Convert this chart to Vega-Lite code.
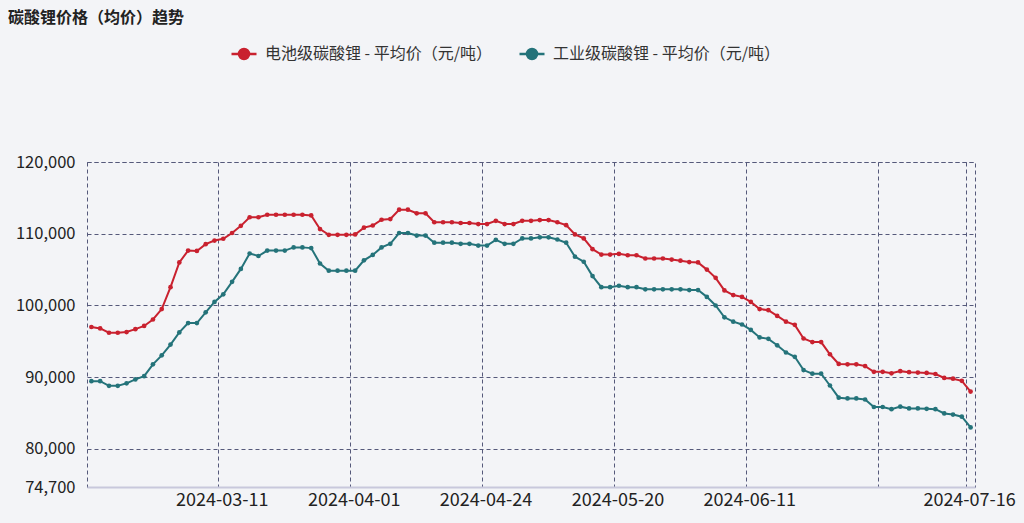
{
  "$schema": "https://vega.github.io/schema/vega-lite/v6.json",
  "width": 888,
  "height": 325,
  "autosize": {"type": "none"},
  "padding": {"left": 87, "top": 162, "right": 49, "bottom": 36},
  "background": "#f3f4f7",
  "view": {"stroke": "#55597a", "strokeDash": [4, 3], "strokeWidth": 1},
  "title": {
    "text": "碳酸锂价格（均价）趋势",
    "anchor": "start",
    "frame": "group",
    "dx": -79,
    "offset": 14,
    "font": "Noto Sans CJK SC",
    "fontSize": 16,
    "fontWeight": "bold",
    "color": "#222222"
  },
  "data": {
    "values": [
      {"date": "2024-02-19", "b": 97000, "i": 89450},
      {"date": "2024-02-20", "b": 96800, "i": 89450},
      {"date": "2024-02-21", "b": 96200, "i": 88800},
      {"date": "2024-02-22", "b": 96200, "i": 88800},
      {"date": "2024-02-23", "b": 96300, "i": 89150},
      {"date": "2024-02-26", "b": 96700, "i": 89700},
      {"date": "2024-02-27", "b": 97150, "i": 90150},
      {"date": "2024-02-28", "b": 98050, "i": 91800},
      {"date": "2024-02-29", "b": 99500, "i": 93050},
      {"date": "2024-03-01", "b": 102550, "i": 94550},
      {"date": "2024-03-04", "b": 106000, "i": 96250},
      {"date": "2024-03-05", "b": 107650, "i": 97550},
      {"date": "2024-03-06", "b": 107600, "i": 97550},
      {"date": "2024-03-07", "b": 108550, "i": 99050},
      {"date": "2024-03-08", "b": 109050, "i": 100500},
      {"date": "2024-03-11", "b": 109300, "i": 101550},
      {"date": "2024-03-12", "b": 110100, "i": 103300},
      {"date": "2024-03-13", "b": 111100, "i": 105100},
      {"date": "2024-03-14", "b": 112300, "i": 107250},
      {"date": "2024-03-15", "b": 112300, "i": 106900},
      {"date": "2024-03-18", "b": 112650, "i": 107650},
      {"date": "2024-03-19", "b": 112650, "i": 107650},
      {"date": "2024-03-20", "b": 112650, "i": 107650},
      {"date": "2024-03-21", "b": 112650, "i": 108100},
      {"date": "2024-03-22", "b": 112650, "i": 108100},
      {"date": "2024-03-25", "b": 112550, "i": 108000},
      {"date": "2024-03-26", "b": 110650, "i": 105850},
      {"date": "2024-03-27", "b": 109850, "i": 104850},
      {"date": "2024-03-28", "b": 109850, "i": 104850},
      {"date": "2024-03-29", "b": 109850, "i": 104850},
      {"date": "2024-04-01", "b": 109900, "i": 104850},
      {"date": "2024-04-02", "b": 110850, "i": 106300},
      {"date": "2024-04-03", "b": 111150, "i": 107050},
      {"date": "2024-04-08", "b": 111950, "i": 108100},
      {"date": "2024-04-09", "b": 112050, "i": 108600},
      {"date": "2024-04-10", "b": 113350, "i": 110100},
      {"date": "2024-04-11", "b": 113350, "i": 110100},
      {"date": "2024-04-12", "b": 112850, "i": 109750},
      {"date": "2024-04-15", "b": 112850, "i": 109750},
      {"date": "2024-04-16", "b": 111600, "i": 108750},
      {"date": "2024-04-17", "b": 111600, "i": 108750},
      {"date": "2024-04-18", "b": 111600, "i": 108750},
      {"date": "2024-04-19", "b": 111500, "i": 108600},
      {"date": "2024-04-22", "b": 111500, "i": 108600},
      {"date": "2024-04-23", "b": 111350, "i": 108350},
      {"date": "2024-04-24", "b": 111350, "i": 108350},
      {"date": "2024-04-25", "b": 111800, "i": 109150},
      {"date": "2024-04-26", "b": 111350, "i": 108600},
      {"date": "2024-04-29", "b": 111350, "i": 108600},
      {"date": "2024-04-30", "b": 111800, "i": 109350},
      {"date": "2024-05-06", "b": 111800, "i": 109350},
      {"date": "2024-05-07", "b": 111900, "i": 109500},
      {"date": "2024-05-08", "b": 111900, "i": 109500},
      {"date": "2024-05-09", "b": 111600, "i": 109200},
      {"date": "2024-05-10", "b": 111200, "i": 108750},
      {"date": "2024-05-13", "b": 109900, "i": 106800},
      {"date": "2024-05-14", "b": 109350, "i": 106100},
      {"date": "2024-05-15", "b": 107850, "i": 104100},
      {"date": "2024-05-16", "b": 107100, "i": 102550},
      {"date": "2024-05-17", "b": 107100, "i": 102550},
      {"date": "2024-05-20", "b": 107200, "i": 102750},
      {"date": "2024-05-21", "b": 107000, "i": 102550},
      {"date": "2024-05-22", "b": 107000, "i": 102550},
      {"date": "2024-05-23", "b": 106550, "i": 102250},
      {"date": "2024-05-24", "b": 106550, "i": 102250},
      {"date": "2024-05-27", "b": 106550, "i": 102250},
      {"date": "2024-05-28", "b": 106400, "i": 102250},
      {"date": "2024-05-29", "b": 106250, "i": 102250},
      {"date": "2024-05-30", "b": 106050, "i": 102150},
      {"date": "2024-05-31", "b": 106000, "i": 102150},
      {"date": "2024-06-03", "b": 105000, "i": 101200},
      {"date": "2024-06-04", "b": 103850, "i": 100000},
      {"date": "2024-06-05", "b": 102100, "i": 98350},
      {"date": "2024-06-06", "b": 101450, "i": 97750},
      {"date": "2024-06-07", "b": 101200, "i": 97350},
      {"date": "2024-06-11", "b": 100500, "i": 96600},
      {"date": "2024-06-12", "b": 99500, "i": 95550},
      {"date": "2024-06-13", "b": 99350, "i": 95350},
      {"date": "2024-06-14", "b": 98550, "i": 94450},
      {"date": "2024-06-17", "b": 97750, "i": 93450},
      {"date": "2024-06-18", "b": 97300, "i": 92850},
      {"date": "2024-06-19", "b": 95400, "i": 91000},
      {"date": "2024-06-20", "b": 94900, "i": 90500},
      {"date": "2024-06-21", "b": 94900, "i": 90500},
      {"date": "2024-06-24", "b": 93200, "i": 88850},
      {"date": "2024-06-25", "b": 91850, "i": 87150},
      {"date": "2024-06-26", "b": 91800, "i": 87050},
      {"date": "2024-06-27", "b": 91800, "i": 87050},
      {"date": "2024-06-28", "b": 91550, "i": 86900},
      {"date": "2024-07-01", "b": 90750, "i": 85850},
      {"date": "2024-07-02", "b": 90750, "i": 85850},
      {"date": "2024-07-03", "b": 90550, "i": 85550},
      {"date": "2024-07-04", "b": 90850, "i": 85900},
      {"date": "2024-07-05", "b": 90700, "i": 85650},
      {"date": "2024-07-08", "b": 90650, "i": 85650},
      {"date": "2024-07-09", "b": 90600, "i": 85600},
      {"date": "2024-07-10", "b": 90450, "i": 85550},
      {"date": "2024-07-11", "b": 89900, "i": 84950},
      {"date": "2024-07-12", "b": 89800, "i": 84800},
      {"date": "2024-07-15", "b": 89500, "i": 84500},
      {"date": "2024-07-16", "b": 88000, "i": 83000}
    ]
  },
  "transform": [{"fold": ["b", "i"], "as": ["series", "price"]}],
  "encoding": {
    "x": {
      "field": "date",
      "type": "ordinal",
      "scale": {"type": "band", "paddingInner": 0, "paddingOuter": 0},
      "bandPosition": 0.5,
      "axis": {
        "title": null,
        "values": ["2024-02-19", "2024-03-11", "2024-04-01", "2024-04-24", "2024-05-20", "2024-06-11", "2024-07-02", "2024-07-16"],
        "labelOpacity": {"condition": {"test": "datum.value == '2024-07-02'", "value": 0}, "value": 1},
        "labelAngle": 0,
        "bandPosition": 0,
        "labelOffset": -1,
        "labelOverlap": false,
        "labelBound": false,
        "grid": true,
        "gridColor": "#55597a",
        "gridDash": [4, 3],
        "gridWidth": 1,
        "ticks": false,
        "domain": true,
        "domainColor": "#c8c8dc",
        "domainWidth": 2,
        "labelFont": "Noto Sans CJK SC",
        "labelFontSize": 18,
        "labelColor": "#222222",
        "labelPadding": 4
      }
    },
    "y": {
      "field": "price",
      "type": "quantitative",
      "scale": {"domain": [74700, 120000], "nice": false, "zero": false},
      "axis": {
        "title": null,
        "values": [74700, 80000, 90000, 100000, 110000, 120000],
        "format": ",d",
        "grid": true,
        "gridColor": "#55597a",
        "gridDash": [4, 3],
        "gridWidth": 1,
        "gridOpacity": {"condition": {"test": "datum.value === 74700", "value": 0}, "value": 1},
        "domain": false,
        "ticks": false,
        "labelFont": "Noto Sans CJK SC",
        "labelFontSize": 16.5,
        "labelColor": "#222222",
        "labelPadding": 12
      }
    },
    "color": {
      "field": "series",
      "type": "nominal",
      "scale": {"domain": ["b", "i"], "range": ["#c9212f", "#24737a"]},
      "legend": {
        "orient": "none",
        "legendX": 143,
        "legendY": -122,
        "direction": "horizontal",
        "title": null,
        "symbolType": "M-1,0H1M-0.4,0A0.4,0.4,0,1,0,0.4,0A0.4,0.4,0,1,0,-0.4,0Z",
        "symbolSize": 625,
        "symbolStrokeWidth": 2.5,
        "labelFont": "Noto Sans CJK SC",
        "labelFontSize": 16,
        "labelColor": "#333333",
        "labelLimit": 600,
        "labelOffset": 7,
        "columnPadding": 22,
        "labelExpr": "datum.value == 'b' ? '电池级碳酸锂 - 平均价（元/吨）' : '工业级碳酸锂 - 平均价（元/吨）'",
        "encode": {
          "symbols": {
            "update": {
              "fill": {"scale": "color", "field": "value"},
              "stroke": {"scale": "color", "field": "value"},
              "opacity": {"value": 1}
            }
          }
        }
      }
    }
  },
  "layer": [
    {"mark": {"type": "line", "strokeWidth": 2}},
    {"mark": {"type": "circle", "size": 22, "opacity": 1}}
  ]
}
